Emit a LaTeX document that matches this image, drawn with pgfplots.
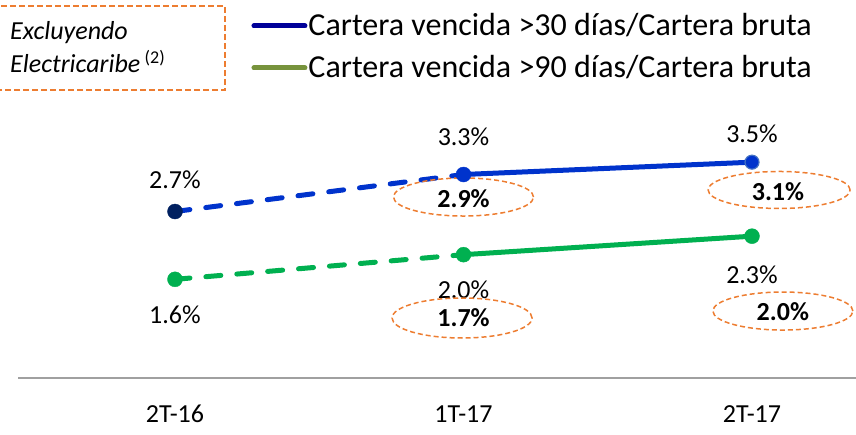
\documentclass[border=0pt]{standalone}
\usepackage{fontspec}
\setmainfont{Carlito}
\usepackage{pgfplots}
\pgfplotsset{compat=1.18}
\definecolor{lineblue}{RGB}{0,51,204}
\definecolor{navymark}{RGB}{0,32,96}
\definecolor{ringblue}{RGB}{68,114,196}
\definecolor{linegreen}{RGB}{0,176,80}
\definecolor{legnavy}{RGB}{0,0,153}
\definecolor{legolive}{RGB}{119,147,60}
\definecolor{boxorange}{RGB}{237,125,49}
\definecolor{axisgray}{RGB}{160,160,160}
\newcommand{\lab}{\fontsize{26}{26}\selectfont}
\begin{document}
\begin{tikzpicture}
\useasboundingbox (0pt,0pt) rectangle (856pt,434pt);
\begin{axis}[
  at={(18pt,56pt)}, anchor=south west,
  scale only axis, width=838pt, height=277.5pt,
  xmin=-0.5442, xmax=2.3605, ymin=0, ymax=4.5,
  axis x line*=bottom, axis y line=none,
  x axis line style={draw=axisgray, line width=2pt, -},
  xtick={0,1,2}, xticklabels={2T-16,1T-17,2T-17},
  ytick=\empty, major tick length=0pt,
  xticklabel style={font=\lab, anchor=base, yshift=-44pt},
  clip=false,
  legend image code/.code={\draw[#1] (0pt,0pt) -- (51pt,0pt);},
  legend style={at={(0.2786,1.319)}, anchor=north west, draw=none, fill=none,
    inner sep=0pt, outer sep=0pt, font=\fontsize{32}{32}\selectfont,
    row sep=14pt, cells={anchor=west},
    nodes={inner sep=0pt, text height=24pt, text depth=4pt},
    /tikz/every odd column/.append style={column sep=1pt}},
]
% legend
\addlegendimage{legnavy, line width=5pt, line cap=round}
\addlegendentry{Cartera vencida >30 días/Cartera bruta}
\addlegendimage{legolive, line width=5pt, line cap=round}
\addlegendentry{Cartera vencida >90 días/Cartera bruta}
% blue series
\addplot[forget plot, lineblue, line width=5pt, line cap=round, dash pattern=on 15pt off 16pt] coordinates {(0,2.7) (1,3.3)};
\addplot[forget plot, lineblue, line width=5pt] coordinates {(1,3.3) (2,3.5)};
% green series
\addplot[forget plot, linegreen, line width=5pt, line cap=round, dash pattern=on 15pt off 16pt] coordinates {(0,1.6) (1,2.0)};
\addplot[forget plot, linegreen, line width=5pt] coordinates {(1,2.0) (2,2.3)};
% markers
\addplot[forget plot, only marks, mark=*, mark size=7.5pt, mark options={fill=navymark, draw=navymark}] coordinates {(0,2.7)};
\addplot[forget plot, only marks, mark=*, mark size=7.5pt, mark options={fill=lineblue, draw=lineblue}] coordinates {(1,3.3)};
\addplot[forget plot, only marks, mark=*, mark size=7pt, mark options={fill=lineblue, draw=ringblue, line width=1.2pt}] coordinates {(2,3.5)};
\addplot[forget plot, only marks, mark=*, mark size=7.5pt, mark options={fill=linegreen, draw=linegreen}] coordinates {(0,1.6) (1,2.0) (2,2.3)};
% data labels
\node[anchor=base, font=\lab, inner sep=0pt] at (axis cs:0,3.081) {2.7\%};
\node[anchor=base, font=\lab, inner sep=0pt] at (axis cs:1,3.778) {3.3\%};
\node[anchor=base, font=\lab, inner sep=0pt] at (axis cs:2,3.827) {3.5\%};
\node[anchor=base, font=\lab, inner sep=0pt] at (axis cs:0,0.876) {1.6\%};
\node[anchor=base, font=\lab, inner sep=0pt] at (axis cs:1,1.297) {2.0\%};
\node[anchor=base, font=\lab, inner sep=0pt] at (axis cs:2,1.540) {2.3\%};
% ellipses with bold values
\draw[boxorange, line width=1.5pt, dash pattern=on 5pt off 3pt] (axis cs:1,2.935) ellipse [x radius=70pt, y radius=19pt];
\draw[boxorange, line width=1.5pt, dash pattern=on 5pt off 3pt] (axis cs:2.094,3.049) ellipse [x radius=71pt, y radius=18.5pt];
\draw[boxorange, line width=1.5pt, dash pattern=on 5pt off 3pt] (axis cs:0.995,0.973) ellipse [x radius=70pt, y radius=20pt];
\draw[boxorange, line width=1.5pt, dash pattern=on 5pt off 3pt] (axis cs:2.107,1.086) ellipse [x radius=70pt, y radius=19pt];
\node[anchor=base, font=\lab\bfseries, inner sep=0pt] at (axis cs:1,2.773) {2.9\%};
\node[anchor=base, font=\lab\bfseries, inner sep=0pt] at (axis cs:2.090,2.886) {3.1\%};
\node[anchor=base, font=\lab\bfseries, inner sep=0pt] at (axis cs:1,0.843) {1.7\%};
\node[anchor=base, font=\lab\bfseries, inner sep=0pt] at (axis cs:2.107,0.940) {2.0\%};
\end{axis}
% note box
\draw[boxorange, line width=2pt, dash pattern=on 6pt off 3pt] (-5pt,344pt) rectangle (225pt,428pt);
\node[anchor=base west, inner sep=0pt, font=\lab\itshape] at (10pt,394pt) {Excluyendo};
\node[anchor=base west, inner sep=0pt, font=\lab\itshape] at (10pt,361pt) {Electricaribe\,\raisebox{9pt}{\fontsize{18}{18}\selectfont\upshape(2)}};
\end{tikzpicture}
\end{document}
